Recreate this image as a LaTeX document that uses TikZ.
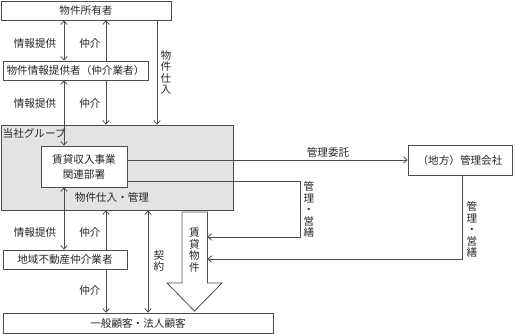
\documentclass[tikz,border=0pt]{standalone}
\usepackage{fontspec}
\newfontfamily\jp{Noto Sans CJK JP}
\usetikzlibrary{arrows.meta}
\definecolor{ln}{gray}{0.3}
\definecolor{grp}{gray}{0.89}
\tikzset{
  >={Straight Barb[length=3.5pt,width=6.5pt]},
  base/.style={font=\jp\fontsize{10.6}{12}\selectfont, text=black!85},
  box/.style={base, draw=ln, line width=0.8pt, inner sep=0pt, fill=white},
  arr/.style={draw=ln, line width=0.8pt},
  lab/.style={base, inner sep=0pt},
  vlab/.style={base, inner sep=0pt, align=center, font=\jp\fontsize{10.6}{11.5}\selectfont},
}
\begin{document}
\begin{tikzpicture}[x=1pt,y=-1pt]
\useasboundingbox[fill=white] (0,0) rectangle (515,334);

% boxes
\node[box, minimum width=170pt, minimum height=19pt] (owner) at (86,10.5) {物件所有者};
\node[box, minimum width=145pt, minimum height=19pt] (info) at (75.5,70.5) {物件情報提供者（仲介業者）};
\node[box, fill=grp, minimum width=232pt, minimum height=85pt] (group) at (117,167.5) {};
\node[lab, anchor=north west] (grplab) at (2.5,128.5) {当社グループ};
\node[box, minimum width=86pt, minimum height=41pt, align=center, font=\jp\fontsize{10.6}{15}\selectfont] (dept) at (84,166.5) {賃貸収入事業\\関連部署};
\node[lab] (buy) at (112,197) {物件仕入・管理};
\node[box, minimum width=104pt, minimum height=30pt] (kanri) at (460,160) {（地方）管理会社};
\node[box, minimum width=124pt, minimum height=19pt] (local) at (65,259.5) {地域不動産仲介業者};
\node[box, minimum width=270pt, minimum height=20pt] (cust) at (138,323) {一般顧客・法人顧客};

% helper coordinates
\coordinate (xa) at (64,0);
\coordinate (xb) at (106,0);
\coordinate (xc) at (157,0);
\coordinate (xd) at (148,0);
\coordinate (xe) at (300,0);
\coordinate (xf) at (462,0);
\coordinate (rentR) at (207.5,0);
\coordinate (y1) at (0,181);
\coordinate (y2) at (0,237);
\coordinate (y3) at (0,259);

% big hollow arrow
\draw[arr, fill=white] (182,212) -- (182,283) -- (167,283) -- (194.5,311) -- (222,283) -- (207.5,283) -- (207.5,212) -- cycle;
\node[vlab] (rent) at (194.5,250) {賃\\貸\\物\\件};

% connectors
\draw[arr, <->] (owner.south -| xa) -- (info.north -| xa);
\draw[arr, ->] (info.north -| xb) -- (owner.south -| xb);
\draw[arr, ->] (owner.south -| xc) -- (group.north -| xc);
\draw[arr, <->] (info.south -| xa) -- (dept.north -| xa);
\draw[arr, ->] (info.south -| xb) -- (group.north -| xb);
\draw[arr, <->] (dept.south -| xa) -- (local.north -| xa);
\draw[arr, ->] (local.north -| xb) -- (group.south -| xb);
\draw[arr, ->] (local.south -| xb) -- (cust.north -| xb);
\draw[arr, <->] (group.south -| xd) -- (cust.north -| xd);
\draw[arr, ->] (kanri.west -| dept.east) -- (kanri.west);
\draw[arr, ->] (dept.east |- y1) -- (xe |- y1) -- (xe |- y2) -- (rentR |- y2);
\draw[arr, ->] (kanri.south -| xf) -- (xf |- y3) -- (rentR |- y3);

% labels
\node[lab] (l1) at (35,43) {情報提供};
\node[lab] (l2) at (90,43) {仲介};
\node[lab] (l3) at (35,103) {情報提供};
\node[lab] (l4) at (90,103) {仲介};
\node[lab] (l5) at (35,232) {情報提供};
\node[lab] (l6) at (90,232) {仲介};
\node[lab] (l7) at (90,290) {仲介};
\node[lab] (l8) at (328,152) {管理委託};
\node[vlab] (v1) at (166,72.5) {物\\件\\仕\\入};
\node[vlab] (v2) at (309,209.5) {管\\理\\・\\営\\繕};
\node[vlab] (v3) at (472,229.5) {管\\理\\・\\営\\繕};
\node[vlab] (v4) at (159,261) {契\\約};
\end{tikzpicture}
\end{document}
